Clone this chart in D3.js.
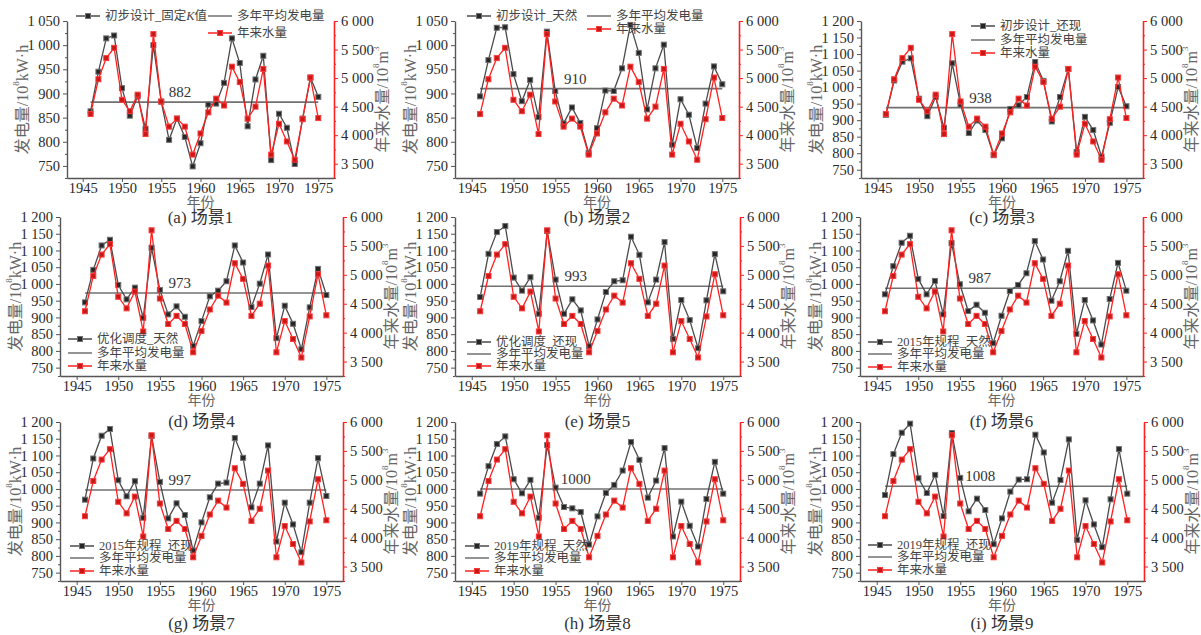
<!DOCTYPE html>
<html>
<head>
<meta charset="utf-8">
<script src="https://cdn.jsdelivr.net/npm/d3@7"></script>
<style>
  body { margin: 0; background: #fff; }
  svg { display: block; }
  text { font-family: "Liberation Serif", "Noto Sans CJK SC", serif; }
</style>
</head>
<body>
<div id="chart"></div>
<script>
// ---- data ----
const years = [1946, 1947, 1948, 1949, 1950, 1951, 1952, 1953, 1954, 1955,
               1956, 1957, 1958, 1959, 1960, 1961, 1962, 1963, 1964, 1965,
               1966, 1967, 1968, 1969, 1970, 1971, 1972, 1973, 1974, 1975];
const xTicks = [1945, 1950, 1955, 1960, 1965, 1970, 1975];
const leftTicksShort = [750, 800, 850, 900, 950, 1000, 1050];
const leftTicksTall = [750, 800, 850, 900, 950, 1000, 1050, 1100, 1150, 1200];
const rightTicks = [3500, 4000, 4500, 5000, 5500, 6000];

// annual inflow, 10^8 m3 (same in every panel)
const inflow = [4370, 4980, 5350, 5530, 4620, 4420, 4710, 4020, 5770, 4590,
                4150, 4290, 4150, 3660, 4030, 4400, 4640, 4520, 5200, 4930,
                4290, 4500, 5160, 3660, 4200, 3890, 3570, 4280, 5010, 4300];

// generation, 10^8 kW·h, one array per scenario
const genA = [863, 945, 1014, 1020, 911, 854, 894, 827, 1000, 883,
              804, 848, 810, 749, 797, 877, 879, 922, 1014, 963,
              832, 929, 978, 762, 858, 829, 754, 848, 933, 893];
const genB = [894, 969, 1036, 1037, 940, 884, 928, 851, 1028, 905,
              838, 871, 839, 777, 828, 906, 905, 952, 1042, 984,
              867, 952, 1001, 794, 888, 856, 787, 879, 956, 919];
const genC = [916, 1020, 1077, 1087, 965, 912, 970, 877, 1072, 947,
              861, 899, 870, 794, 845, 934, 945, 970, 1076, 1019,
              896, 970, 1055, 804, 910, 870, 790, 892, 1000, 942];
const genD = [945, 1042, 1115, 1132, 997, 954, 989, 899, 1108, 982,
              909, 933, 902, 815, 889, 963, 980, 1008, 1115, 1064,
              931, 1001, 1088, 838, 935, 881, 805, 930, 1045, 967];
const genE = [961, 1090, 1155, 1173, 1019, 980, 1020, 911, 1158, 1013,
              911, 954, 921, 814, 894, 976, 1008, 1011, 1141, 1087,
              945, 1013, 1125, 836, 952, 892, 808, 951, 1089, 978];
const genF = [969, 1053, 1123, 1144, 1015, 969, 1009, 909, 1122, 999,
              919, 938, 914, 823, 905, 979, 997, 1032, 1128, 1073,
              950, 1008, 1099, 851, 952, 891, 819, 955, 1063, 980];
const genG = [968, 1091, 1159, 1179, 1026, 978, 1023, 914, 1158, 1021,
              912, 957, 922, 816, 900, 975, 1016, 1019, 1152, 1093,
              945, 1016, 1130, 843, 959, 894, 811, 959, 1092, 979];
const genH = [986, 1068, 1134, 1157, 1029, 987, 1027, 914, 1131, 1004,
              946, 942, 931, 834, 918, 988, 1012, 1055, 1140, 1087,
              974, 1025, 1122, 858, 962, 890, 828, 970, 1081, 986];
const genI = [982, 1104, 1168, 1195, 1032, 988, 1042, 919, 1167, 1033,
              933, 971, 937, 835, 912, 992, 1028, 1029, 1162, 1109,
              959, 1027, 1148, 848, 966, 894, 826, 969, 1119, 986];

const meanGen = [882, 910, 938, 973, 993, 987, 997, 1000, 1008];
const seriesNames = ["初步设计_固定K值", "初步设计_天然", "初步设计_还现",
                     "优化调度_天然", "优化调度_还现", "2015年规程_天然",
                     "2015年规程_还现", "2019年规程_天然", "2019年规程_还现"];
const captions = ["(a) 场景1", "(b) 场景2", "(c) 场景3", "(d) 场景4", "(e) 场景5",
                  "(f) 场景6", "(g) 场景7", "(h) 场景8", "(i) 场景9"];
const meanName = "多年平均发电量";
const flowName = "年来水量";

const genAll = [genA, genB, genC, genD, genE, genF, genG, genH, genI];
const leftTickSets = [leftTicksShort, leftTicksShort, leftTicksTall, leftTicksTall,
                      leftTicksTall, leftTicksTall, leftTicksTall, leftTicksTall, leftTicksTall];

// ---- layout ----
const W = 1201, H = 635;
const frames = [
  {x0: 67,  x1: 334,  y0: 21,  y1: 178, cap: 217},
  {x0: 455, x1: 739,  y0: 21,  y1: 178, cap: 217},
  {x0: 861, x1: 1143, y0: 21,  y1: 178, cap: 217},
  {x0: 60,  x1: 343,  y0: 217, y1: 376, cap: 421},
  {x0: 455, x1: 740,  y0: 217, y1: 376, cap: 421},
  {x0: 860, x1: 1143, y0: 217, y1: 376, cap: 421},
  {x0: 60,  x1: 343,  y0: 422, y1: 581, cap: 623},
  {x0: 455, x1: 740,  y0: 422, y1: 581, cap: 623},
  {x0: 860, x1: 1144, y0: 422, y1: 581, cap: 623}
];
// legend rows: [x, y] for gen, mean, flow
const legends = [
  [[76, 16], [208, 16], [208, 33]],
  [[467, 16], [587, 16], [587, 29]],
  [[971, 26], [971, 40], [971, 53]],
  [[68, 339], [68, 353], [68, 366]],
  [[467, 342], [467, 354], [467, 366]],
  [[868, 342], [868, 354], [868, 367]],
  [[70, 546], [70, 558], [70, 571]],
  [[465, 546], [465, 558], [465, 571]],
  [[868, 545], [868, 557], [868, 570]]
];

const GRAY = "#4a4a4a", RED = "#ff2020", AXIS = "#555", MEAN = "#707070";
const fmt = v => d3.format(",")(v).replace(/,/g, " ");

const svg = d3.select("#chart").append("svg")
  .attr("width", W).attr("height", H);

function minorOf(ticks, step) {
  const out = [ticks[0] - step];
  for (let i = 0; i < ticks.length - 1; i++) out.push(ticks[i] + step);
  return out;
}

function marker(g, x, y, kind) {
  g.append("rect")
    .attr("x", x - 2.5).attr("y", y - 2.5)
    .attr("width", 5).attr("height", 5)
    .attr("fill", kind === "gen" ? "#262626" : "#c81818")
    .attr("stroke", kind === "gen" ? "#707070" : "#ff3a3a")
    .attr("stroke-width", 1);
}

function styleAxis(a, color, lineW) {
  a.select(".domain").attr("stroke", color).attr("stroke-width", lineW);
  a.selectAll(".tick line").attr("stroke", color).attr("stroke-width", 1);
  a.selectAll(".tick text").attr("font-size", 14.5).attr("fill", "#2a2a2a")
    .style("font-family", '"Liberation Serif", serif');
}

frames.forEach((f, p) => {
  const g = svg.append("g");
  const ticksL = leftTickSets[p];
  const gen = genAll[p];

  const x = d3.scaleLinear().domain([1943, 1977]).range([f.x0, f.x1]);
  const yL = d3.scaleLinear().domain([725, d3.max(ticksL)]).range([f.y1, f.y0]);
  const yR = d3.scaleLinear().domain([3250, 6000]).range([f.y1, f.y0]);

  // left axis (major + minor)
  g.append("g").attr("transform", `translate(${f.x0},0)`)
    .call(d3.axisLeft(yL).tickValues(ticksL).tickSize(4).tickSizeOuter(0).tickFormat(fmt))
    .call(a => styleAxis(a, AXIS, 1.4));
  g.append("g").attr("transform", `translate(${f.x0},0)`)
    .call(d3.axisLeft(yL).tickValues(minorOf(ticksL, 25)).tickSize(2).tickFormat(""))
    .call(a => { a.select(".domain").remove(); a.selectAll("line").attr("stroke", AXIS); });

  // right axis (major + minor)
  g.append("g").attr("transform", `translate(${f.x1},0)`)
    .call(d3.axisRight(yR).tickValues(rightTicks).tickSize(4).tickSizeOuter(0).tickFormat(fmt))
    .call(a => styleAxis(a, RED, 1.6));
  g.append("g").attr("transform", `translate(${f.x1},0)`)
    .call(d3.axisRight(yR).tickValues(minorOf(rightTicks, 250)).tickSize(2).tickFormat(""))
    .call(a => { a.select(".domain").remove(); a.selectAll("line").attr("stroke", RED); });

  // bottom axis
  g.append("g").attr("transform", `translate(0,${f.y1})`)
    .call(d3.axisBottom(x).tickValues(xTicks).tickSize(4).tickSizeOuter(0).tickFormat(d3.format("d")))
    .call(a => styleAxis(a, AXIS, 1.4))
    .call(a => a.selectAll(".tick text").attr("y", 5));

  // mean line + label
  g.append("line")
    .attr("x1", x(years[0])).attr("x2", x(years[years.length - 1]))
    .attr("y1", yL(meanGen[p])).attr("y2", yL(meanGen[p]))
    .attr("stroke", MEAN).attr("stroke-width", 1.6);
  g.append("text")
    .attr("x", x(1957.4)).attr("y", yL(meanGen[p]) - 5)
    .attr("text-anchor", "middle").attr("font-size", 15).attr("fill", "#333")
    .text(meanGen[p]);

  // generation series
  const lineGen = d3.line().x((d, i) => x(years[i])).y(d => yL(d));
  g.append("path").datum(gen).attr("d", lineGen)
    .attr("fill", "none").attr("stroke", GRAY).attr("stroke-width", 1.3);
  gen.forEach((v, i) => marker(g, x(years[i]), yL(v), "gen"));

  // inflow series
  const lineFlow = d3.line().x((d, i) => x(years[i])).y(d => yR(d));
  g.append("path").datum(inflow).attr("d", lineFlow)
    .attr("fill", "none").attr("stroke", RED).attr("stroke-width", 1.3);
  inflow.forEach((v, i) => marker(g, x(years[i]), yR(v), "flow"));

  // axis titles
  const cy = (f.y0 + f.y1) / 2;
  const lt = g.append("text")
    .attr("transform", `translate(${f.x0 - 45},${cy}) rotate(-90)`)
    .attr("text-anchor", "middle").attr("dominant-baseline", "central")
    .attr("font-size", 16).attr("fill", "#666");
  lt.append("tspan").text("发电量/10");
  lt.append("tspan").attr("dy", -6).attr("font-size", 9).text("8");
  lt.append("tspan").attr("dy", 6).text("kW·h");

  const rt = g.append("text")
    .attr("transform", `translate(${f.x1 + 48},${cy}) rotate(-90)`)
    .attr("text-anchor", "middle").attr("dominant-baseline", "central")
    .attr("font-size", 16).attr("fill", "#666");
  rt.append("tspan").text("年来水量/10");
  rt.append("tspan").attr("dy", -6).attr("font-size", 9).text("8");
  rt.append("tspan").attr("dy", 6).text("m");
  rt.append("tspan").attr("dy", -6).attr("font-size", 9).text("3");

  g.append("text")
    .attr("x", (f.x0 + f.x1) / 2).attr("y", f.y1 + 24)
    .attr("text-anchor", "middle").attr("dominant-baseline", "central")
    .attr("font-size", 14).attr("fill", "#666").text("年份");

  g.append("text")
    .attr("x", (f.x0 + f.x1) / 2).attr("y", f.cap)
    .attr("text-anchor", "middle").attr("dominant-baseline", "central")
    .attr("font-size", 17).attr("fill", "#333").text(captions[p]);

  // legend
  const lg = legends[p];
  const items = [
    {kind: "gen", color: GRAY, name: seriesNames[p]},
    {kind: "mean", color: MEAN, name: meanName},
    {kind: "flow", color: RED, name: flowName}
  ];
  items.forEach((it, k) => {
    const [lx, ly] = lg[k];
    g.append("line").attr("x1", lx).attr("x2", lx + 24).attr("y1", ly).attr("y2", ly)
      .attr("stroke", it.color).attr("stroke-width", 1.5);
    if (it.kind !== "mean") marker(g, lx + 12, ly, it.kind);
    const t = g.append("text").attr("x", lx + 29).attr("y", ly)
      .attr("dominant-baseline", "central").attr("font-size", 12.5).attr("fill", "#444");
    const parts = it.name.split("K");
    if (parts.length === 2) {
      t.append("tspan").text(parts[0]);
      t.append("tspan").attr("font-style", "italic").text("K");
      t.append("tspan").text(parts[1]);
    } else {
      t.text(it.name);
    }
  });
});
</script>
</body>
</html>
